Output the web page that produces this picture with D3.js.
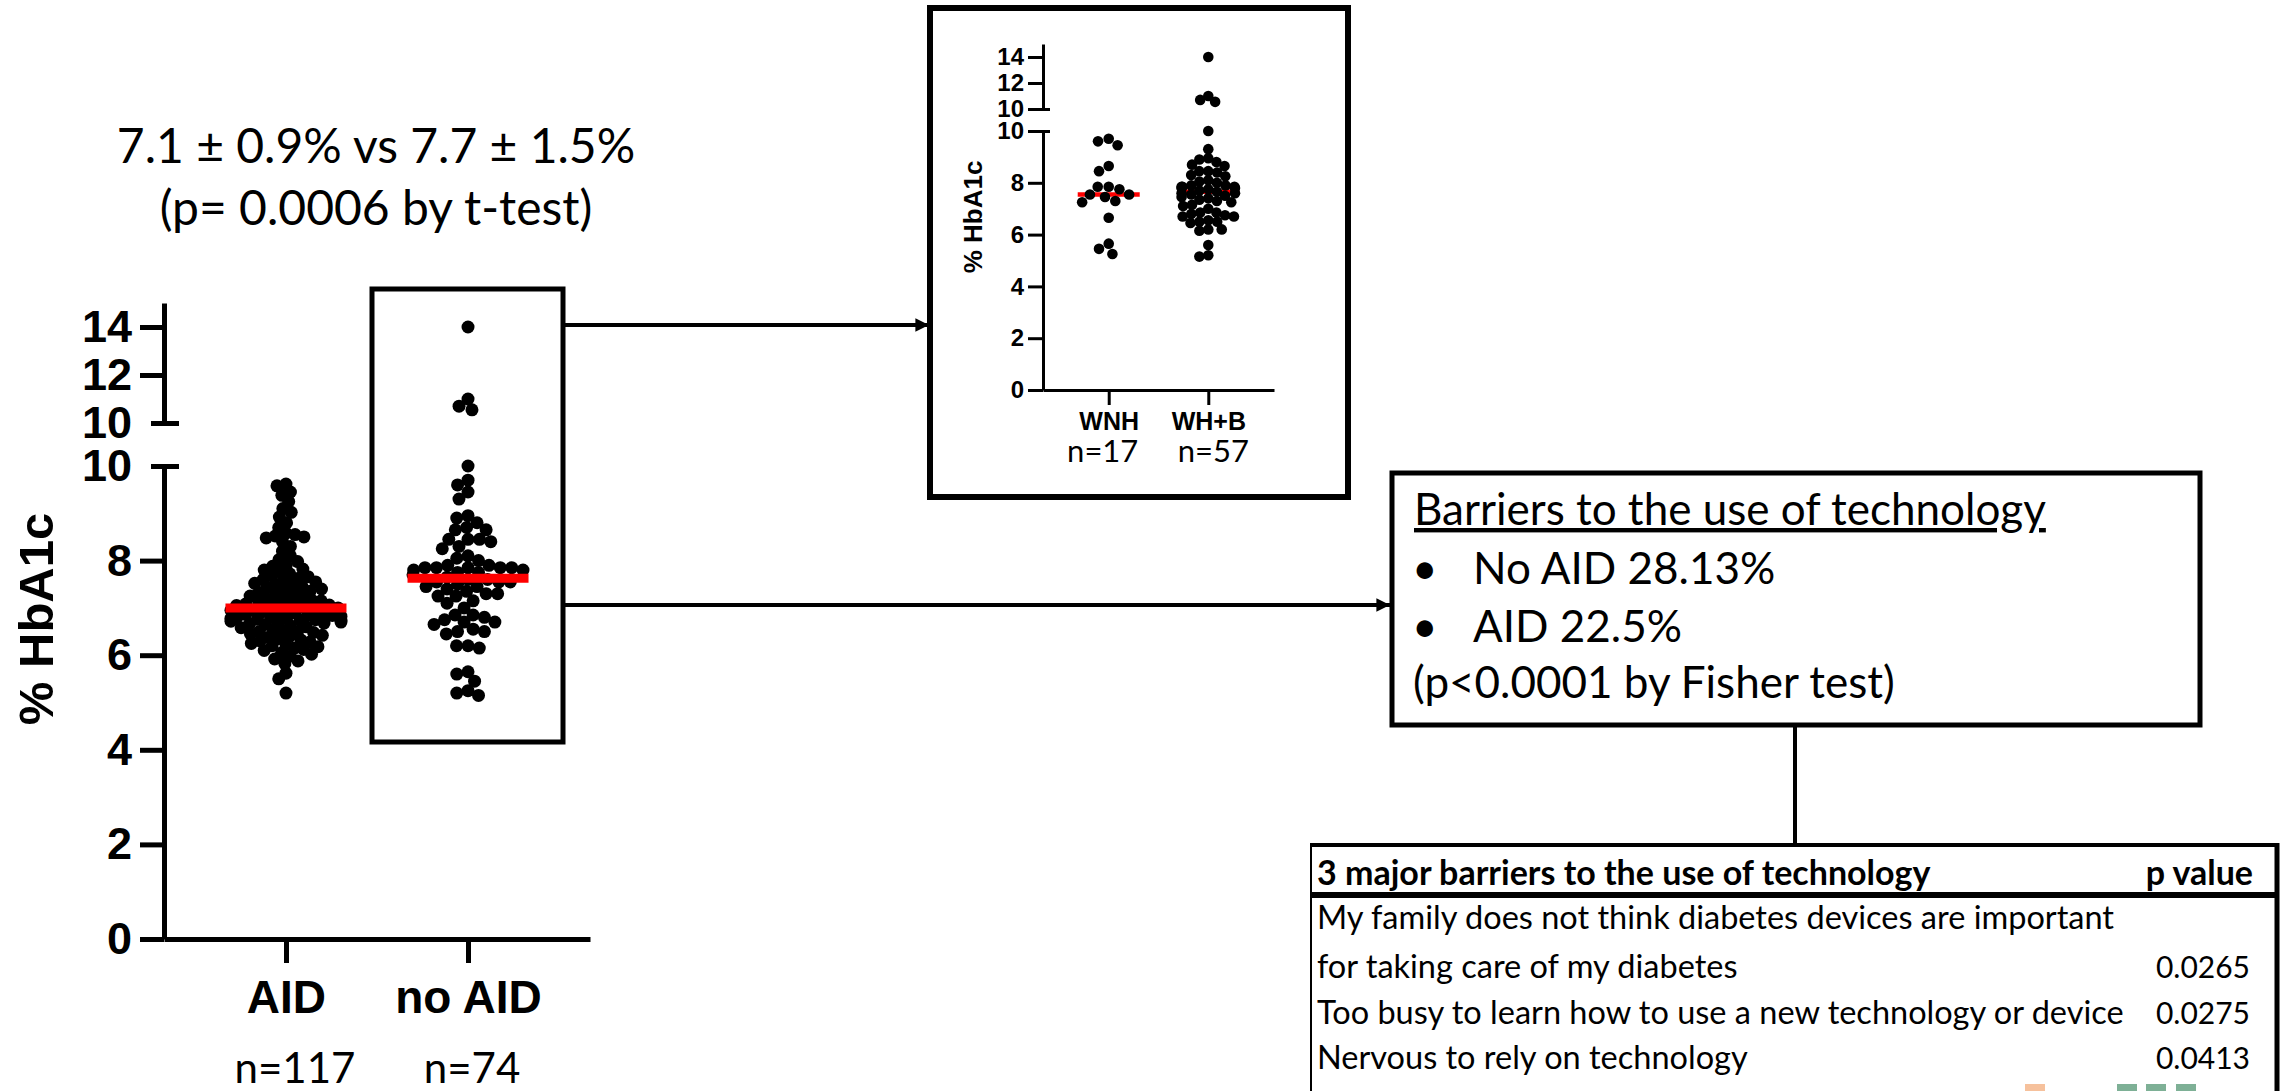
<!DOCTYPE html>
<html>
<head>
<meta charset="utf-8">
<script src="https://cdn.jsdelivr.net/npm/d3@7"></script>
<style>
  body { margin: 0; background: #fff; }
</style>
</head>
<body>
<script>
// ---- data ----
var groups = ["AID", "no AID"],
    groupN = ["n=117", "n=74"];

// % HbA1c, AID users
var aid = [
  9.62, 9.58, 9.45, 9.38, 9.25, 9.1, 9.02, 8.92, 8.8, 8.7,
  8.58, 8.55, 8.52, 8.5, 8.48, 8.4, 8.3, 8.2, 8.1, 8.02,
  7.98, 7.9, 7.88, 7.82, 7.8, 7.76, 7.72, 7.68, 7.66, 7.62,
  7.6, 7.58, 7.55, 7.52, 7.5, 7.48, 7.45, 7.42, 7.4, 7.38,
  7.35, 7.32, 7.3, 7.28, 7.25, 7.22, 7.2, 7.18, 7.16, 7.15,
  7.12, 7.1, 7.1, 7.08, 7.06, 7.05, 7.02, 7.0, 7.0, 7.0,
  6.98, 6.96, 6.95, 6.92, 6.9, 6.9, 6.88, 6.86, 6.85, 6.84,
  6.82, 6.8, 6.8, 6.8, 6.78, 6.76, 6.75, 6.75, 6.74, 6.72,
  6.7, 6.7, 6.68, 6.66, 6.65, 6.62, 6.6, 6.58, 6.55, 6.52,
  6.5, 6.5, 6.48, 6.45, 6.42, 6.4, 6.38, 6.35, 6.32, 6.3,
  6.28, 6.25, 6.22, 6.2, 6.18, 6.15, 6.12, 6.1, 6.05, 6.02,
  5.98, 5.92, 5.88, 5.82, 5.62, 5.5, 5.2
];

// no AID users, split by ethnicity (inset)
var insetGroups = ["WNH", "WH+B"],
    insetN = ["n=17", "n=57"];
var wnh = [9.7, 9.6, 9.45, 8.65, 8.45, 7.85, 7.85, 7.75, 7.55, 7.55,
           7.45, 7.3, 7.25, 6.65, 5.65, 5.45, 5.25];
var whb = [14.0, 11.0, 10.7, 10.55, 10.0, 9.3, 8.95, 8.9, 8.8, 8.7,
           8.65, 8.45, 8.4, 8.45, 8.3, 8.25, 8.1, 8.05, 8.0, 7.9,
           7.85, 7.85, 7.9, 7.85, 7.8, 7.8, 7.75, 7.7, 7.65, 7.6,
           7.6, 7.55, 7.5, 7.45, 7.4, 7.35, 7.3, 7.25, 7.15, 7.1,
           7.0, 6.85, 6.8, 6.75, 6.85, 6.7, 6.7, 6.55, 6.5, 6.5,
           6.45, 6.2, 6.2, 6.15, 5.6, 5.2, 5.15];
var noAid = wnh.concat(whb);

var lowTicks = [0, 2, 4, 6, 8, 10],
    highTicks = [10, 12, 14];

var stats = ["7.1 \u00b1 0.9% vs 7.7 \u00b1 1.5%", "(p= 0.0006 by t-test)"];
var barrierTitle = "Barriers to the use of technology",
    barrierBullets = ["No AID 28.13%", "AID 22.5%"],
    barrierTest = "(p<0.0001 by Fisher test)";
var tableHead = ["3 major barriers to the use of technology", "p value"],
    tableLines = ["My family does not think diabetes devices are important",
                  "for taking care of my diabetes",
                  "Too busy to learn how to use a new technology or device",
                  "Nervous to rely on technology"],
    tablePs = ["", "0.0265", "0.0275", "0.0413"];

var ARIAL = "'Liberation Sans', Arial, sans-serif",
    CAL = "Lato, 'Open Sans', sans-serif";

var svg = d3.select("body").append("svg")
    .attr("width", 2285)
    .attr("height", 1091);

svg.append("defs").append("marker")
    .attr("id", "head")
    .attr("viewBox", "0 0 10 10")
    .attr("refX", 10).attr("refY", 5)
    .attr("markerWidth", 3.4).attr("markerHeight", 3.4)
    .attr("markerUnits", "strokeWidth")
    .attr("orient", "auto")
  .append("path")
    .attr("d", "M0,0L10,5L0,10Z");

// broken y axis: two linear scales glued together
function brokenY(low, high) {
  var lo = d3.scaleLinear().domain([0, 10]).range(low),
      hi = d3.scaleLinear().domain([10, 15]).range(high);
  var f = function(v) { return v > 10 ? hi(v) : lo(v); };
  f.lo = lo; f.hi = hi;
  return f;
}

// simple beeswarm: nearest free slot to the centre line
function swarm(vals, y, diam, maxOff) {
  var pts = vals.map(function(v) { return { v: v, y: y(v), x: 0 }; });
  pts.sort(function(a, b) { return b.v - a.v; });
  var placed = [];
  pts.forEach(function(p) {
    var c = [0];
    placed.forEach(function(q) {
      var dy = Math.abs(q.y - p.y);
      if (dy < diam) {
        var dx = Math.sqrt(diam * diam - dy * dy);
        c.push(q.x + dx, q.x - dx);
      }
    });
    c.sort(function(a, b) { return Math.abs(a) - Math.abs(b) || a - b; });
    for (var i = 0; i < c.length; i++) {
      var ok = placed.every(function(q) {
        return (q.x - c[i]) * (q.x - c[i]) + (q.y - p.y) * (q.y - p.y) >= diam * diam - 0.01;
      });
      if (ok) { p.x = c[i]; break; }
    }
    p.x = Math.max(-maxOff, Math.min(maxOff, p.x));
    placed.push(p);
  });
  return pts;
}

function dotPlot(o) {
  var g = svg.append("g");
  var y = brokenY(o.low, o.high);
  var x = d3.scalePoint().domain(o.cats).range(o.xRange).padding(o.pad);
  var fmt = d3.format("d");

  var axLo = d3.axisLeft(y.lo).tickValues(lowTicks).tickFormat(fmt)
      .tickSize(o.tick).tickSizeOuter(0).tickPadding(o.tickPad);
  var axHi = d3.axisLeft(y.hi).tickValues(highTicks).tickFormat(fmt)
      .tickSize(o.tick).tickSizeOuter(0).tickPadding(o.tickPad);
  var axX = d3.axisBottom(x).tickSize(o.tick).tickSizeOuter(0).tickPadding(o.xPad);

  [axLo, axHi].forEach(function(ax) {
    var a = g.append("g").attr("transform", "translate(" + o.xRange[0] + ",0)").call(ax);
    a.selectAll("line").filter(function(d) { return d === 10; })
      .attr("x1", -o.brk[0]).attr("x2", o.brk[1]);
  });
  g.append("g").attr("transform", "translate(0," + o.low[0] + ")").call(axX);

  g.selectAll(".domain, .tick line")
    .attr("stroke", "#000").attr("stroke-width", o.stroke);
  g.selectAll(".tick text")
    .attr("fill", "#000")
    .style("font-family", ARIAL).style("font-weight", "bold")
    .style("font-size", o.tickFont + "px");
  g.selectAll(".tick text").filter(function(d) { return typeof d === "string"; })
    .style("font-size", o.catFont + "px");

  // n = labels
  g.selectAll(".nlab").data(o.ns).enter().append("text")
    .attr("x", function(d, i) { return x(o.cats[i]) + o.nShift[i]; })
    .attr("y", o.nY)
    .attr("text-anchor", "middle")
    .style("font-family", CAL).style("font-size", o.nFont + "px")
    .text(function(d) { return d; });

  // y title
  g.append("text")
    .attr("transform", "translate(" + o.yLab[0] + "," + o.yLab[1] + ") rotate(-90)")
    .attr("text-anchor", "middle")
    .style("font-family", ARIAL).style("font-weight", "bold")
    .style("font-size", o.yLabFont + "px")
    .text("% HbA1c");

  o.series.forEach(function(s, i) {
    var cx = x(o.cats[i]);
    var pts = swarm(s, y, o.gap[i], o.half - o.r + 1);
    var med = d3.median(s);
    var line = function() {
      g.append("line")
        .attr("x1", cx - o.half).attr("x2", cx + o.half)
        .attr("y1", y(med)).attr("y2", y(med))
        .attr("stroke", "#ff0000").attr("stroke-width", o.medW);
    };
    if (!o.lineOnTop) line();
    g.append("g").selectAll("circle").data(pts).enter().append("circle")
      .attr("cx", function(d) { return cx + d.x; })
      .attr("cy", function(d) { return d.y; })
      .attr("r", o.r)
      .attr("fill", "#000");
    if (o.lineOnTop) line();
  });
}

// main panel
dotPlot({
  cats: groups, ns: groupN, series: [aid, noAid],
  low: [939, 466], high: [423, 303], xRange: [164, 590], pad: 0.67,
  tick: 24, tickPad: 8, xPad: 17, brk: [13, 15], stroke: 5,
  tickFont: 45, catFont: 46, nFont: 42, nY: 1083, nShift: [9, 4],
  yLab: [53, 619], yLabFont: 49,
  r: 6.5, gap: [9.2, 11.5], half: 60.5, medW: 9, lineOnTop: true
});

// inset panel
dotPlot({
  cats: insetGroups, ns: insetN, series: [wnh, whb],
  low: [390, 131], high: [109, 44], xRange: [1043, 1274], pad: 0.66,
  tick: 15, tickPad: 4, xPad: 7, brk: [15, 7], stroke: 3,
  tickFont: 24, catFont: 25, nFont: 31, nY: 462, nShift: [-6, 5],
  yLab: [982, 217], yLabFont: 26,
  r: 5.3, gap: [11, 9], half: 31, medW: 4.5, lineOnTop: false
});

// no AID highlight box and inset frame
svg.append("rect").attr("x", 372).attr("y", 289).attr("width", 191).attr("height", 453)
  .attr("fill", "none").attr("stroke", "#000").attr("stroke-width", 5);
svg.append("rect").attr("x", 930).attr("y", 8).attr("width", 418).attr("height", 489)
  .attr("fill", "none").attr("stroke", "#000").attr("stroke-width", 6);

// arrows
[[563, 325, 929], [563, 605, 1390]].forEach(function(a) {
  svg.append("line").attr("x1", a[0]).attr("x2", a[2]).attr("y1", a[1]).attr("y2", a[1])
    .attr("stroke", "#000").attr("stroke-width", 4).attr("marker-end", "url(#head)");
});

// stats text
svg.selectAll(".stat").data(stats).enter().append("text")
  .attr("x", 376).attr("y", function(d, i) { return 163 + i * 62; })
  .attr("text-anchor", "middle")
  .style("font-family", CAL).style("font-size", "48px")
  .text(function(d) { return d; });

// barriers box
svg.append("rect").attr("x", 1392).attr("y", 473).attr("width", 808).attr("height", 252)
  .attr("fill", "none").attr("stroke", "#000").attr("stroke-width", 5);
svg.append("text").attr("x", 1414).attr("y", 525)
  .style("font-family", CAL).style("font-size", "44px")
  .style("text-decoration", "underline")
  .text(barrierTitle);
barrierBullets.forEach(function(b, i) {
  svg.append("text").attr("x", 1412).attr("y", 584 + i * 58)
    .style("font-family", CAL).style("font-size", "44px").text("\u2022");
  svg.append("text").attr("x", 1473).attr("y", 584 + i * 58)
    .style("font-family", CAL).style("font-size", "44px").text(b);
});
svg.append("text").attr("x", 1413).attr("y", 698)
  .style("font-family", CAL).style("font-size", "44px")
  .text(barrierTest);

// connector to table
svg.append("line").attr("x1", 1795).attr("x2", 1795).attr("y1", 725).attr("y2", 845)
  .attr("stroke", "#000").attr("stroke-width", 4);

// table
svg.append("line").attr("x1", 1311).attr("x2", 2279).attr("y1", 845).attr("y2", 845)
  .attr("stroke", "#000").attr("stroke-width", 4);
svg.append("line").attr("x1", 1311).attr("x2", 2279).attr("y1", 895).attr("y2", 895)
  .attr("stroke", "#000").attr("stroke-width", 6);
svg.append("line").attr("x1", 1311).attr("x2", 1311).attr("y1", 843).attr("y2", 1091)
  .attr("stroke", "#000").attr("stroke-width", 2);
svg.append("line").attr("x1", 2277).attr("x2", 2277).attr("y1", 843).attr("y2", 1091)
  .attr("stroke", "#000").attr("stroke-width", 5);

svg.append("text").attr("x", 1317).attr("y", 885)
  .style("font-family", CAL).style("font-weight", "bold").style("font-size", "34px")
  .text(tableHead[0]);
svg.append("text").attr("x", 2253).attr("y", 885).attr("text-anchor", "end")
  .style("font-family", CAL).style("font-weight", "bold").style("font-size", "34px")
  .text(tableHead[1]);

var rowY = [929, 978, 1024, 1069];
tableLines.forEach(function(t, i) {
  svg.append("text").attr("x", 1317).attr("y", rowY[i])
    .style("font-family", CAL).style("font-size", "32.5px").text(t);
  svg.append("text").attr("x", 2250).attr("y", rowY[i]).attr("text-anchor", "end")
    .style("font-family", CAL).style("font-size", "30px").text(tablePs[i]);
});

// small cut-off icons at the bottom edge of the slide
[[2025, "#f4b183"], [2117, "#5e9c7c"], [2146, "#5e9c7c"], [2176, "#5e9c7c"]].forEach(function(c) {
  svg.append("rect").attr("x", c[0]).attr("y", 1084).attr("width", 20).attr("height", 7)
    .attr("fill", c[1]).attr("opacity", 0.8);
});
</script>
</body>
</html>
